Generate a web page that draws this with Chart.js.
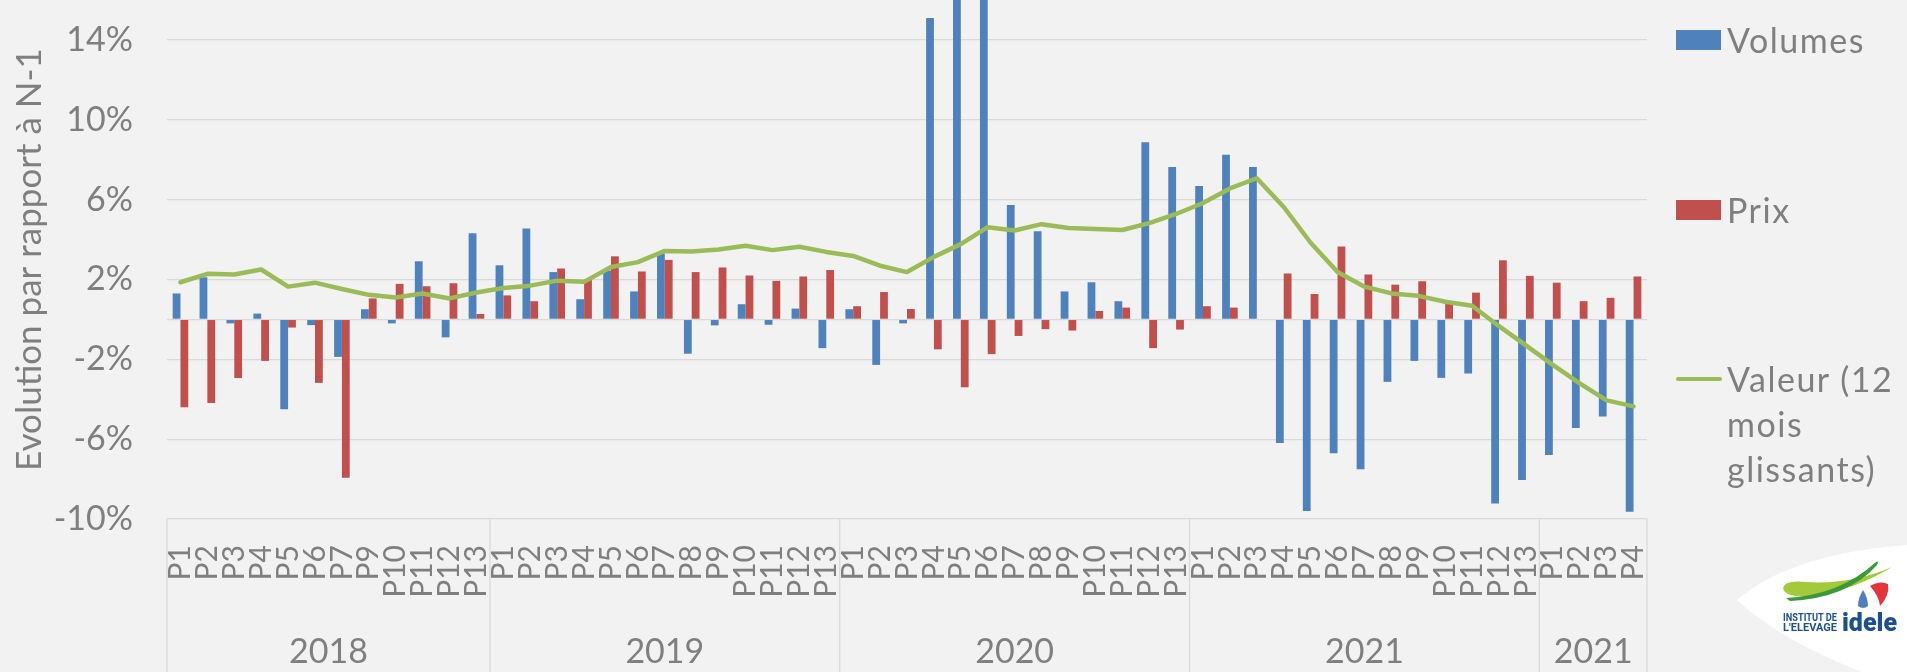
<!DOCTYPE html>
<html lang="fr">
<head>
<meta charset="utf-8">
<title>Evolution par rapport à N-1</title>
<script src="https://cdn.jsdelivr.net/npm/chart.js@4"></script>
<style>
  body { margin: 0; background: #f2f2f2; }
  #wrap { position: relative; width: 1907px; height: 672px; overflow: hidden; background: #f2f2f2; font-family: Lato, sans-serif; color: #7f7f7f; }
  #chart { position: absolute; left: 0; top: 0; }
  .leg { position: absolute; left: 1676px; font-size: 34px; line-height: 45px; letter-spacing: 1.5px; }
  .leg .box { position: absolute; left: 0; width: 45px; height: 20px; }
  .leg .stroke { position: absolute; left: 0; width: 46px; height: 4px; border-radius: 2px; background: #9bbb59; }
  .leg .txt { position: absolute; left: 51px; white-space: nowrap; }
  #logo { position: absolute; left: 1730px; top: 540px; }
</style>
</head>
<body>
<div id="wrap">
  <canvas id="chart" width="1907" height="672"></canvas>

  <div class="leg" style="top:0">
    <div class="box" style="top:30px;background:#4f81bd"></div>
    <div class="txt" style="top:17px">Volumes</div>
  </div>
  <div class="leg" style="top:0">
    <div class="box" style="top:200px;background:#c0504d"></div>
    <div class="txt" style="top:187px">Prix</div>
  </div>
  <div class="leg" style="top:0">
    <div class="stroke" style="top:377px"></div>
    <div class="txt" style="top:356px">Valeur (12<br>mois<br>glissants)</div>
  </div>

  <svg id="logo" width="177" height="132" viewBox="0 0 177 132">
    <path d="M7 60 Q 60 14 177 5 L 177 132 L 132 132 Q 50 100 7 60 Z" fill="#ffffff"/>
    <path d="M53 48 Q 55 40 75 42 Q 120 45 162 27 Q 125 50 80 56 Q 55 58 53 48 Z" fill="#a4c93a"/>
    <path d="M56 58 Q 110 55 146 22 Q 149 20 147 25 Q 118 58 60 61 Z" fill="#3a9a3a"/>
    <path d="M128 66 Q 128 58 133 50 Q 138 58 138 66 Q 133 70 128 66 Z" fill="#4f7fc0"/>
    <path d="M140 46 Q 150 40 158 44 Q 160 55 150 66 Q 149 56 140 46 Z" fill="#e2363c"/>
    <text x="53" y="81" font-family="Roboto, sans-serif" font-weight="700" font-size="10" textLength="54" lengthAdjust="spacingAndGlyphs" fill="#1d4f91">INSTITUT DE</text>
    <text x="53" y="91" font-family="Roboto, sans-serif" font-weight="700" font-size="10" textLength="54" lengthAdjust="spacingAndGlyphs" fill="#1d4f91">L'ELEVAGE</text>
    <text x="112" y="91" font-family="Roboto, sans-serif" font-weight="900" font-size="25" fill="#1d4f91">idele</text>
  </svg>
</div>

<script>
// periods (x axis), 2018 has no P8
const periods = [
  'P1','P2','P3','P4','P5','P6','P7','P9','P10','P11','P12','P13',
  'P1','P2','P3','P4','P5','P6','P7','P8','P9','P10','P11','P12','P13',
  'P1','P2','P3','P4','P5','P6','P7','P8','P9','P10','P11','P12','P13',
  'P1','P2','P3','P4','P5','P6','P7','P8','P9','P10','P11','P12','P13',
  'P1','P2','P3','P4'
];
const years = ['2018', '2019', '2020', '2021', '2021'];
const yearSpans = [12, 13, 13, 13, 4];

// evolution in % vs N-1
const volumes = [
  1.30, 2.11, -0.20, 0.29, -4.50, -0.29, -1.88, 0.51, -0.20, 2.91, -0.90, 4.31,
  2.71, 4.55, 2.37, 1.01, 2.45, 1.40, 3.30, -1.72, -0.30, 0.76, -0.27, 0.54, -1.44,
  0.51, -2.28, -0.20, 15.1, 17.5, 18.5, 5.73, 4.41, 1.40, 1.86, 0.91, 8.88, 7.63,
  6.68, 8.25, 7.63, -6.19, -9.60, -6.71, -7.51, -3.13, -2.08, -2.93, -2.71, -9.22, -8.05,
  -6.80, -5.44, -4.87, -9.64
];
const prix = [
  -4.40, -4.19, -2.94, -2.08, -0.41, -3.18, -7.93, 1.05, 1.78, 1.66, 1.81, 0.27,
  1.20, 0.91, 2.55, 1.98, 3.16, 2.40, 2.98, 2.37, 2.60, 2.20, 1.93, 2.15, 2.47,
  0.66, 1.37, 0.52, -1.50, -3.40, -1.74, -0.83, -0.49, -0.56, 0.42, 0.59, -1.44, -0.51,
  0.66, 0.59, 0, 2.30, 1.27, 3.65, 2.25, 1.74, 1.91, 0.79, 1.34, 2.96, 2.18,
  1.84, 0.91, 1.08, 2.15
];
const valeur = [
  1.86, 2.28, 2.25, 2.50, 1.64, 1.84, 1.52, 1.23, 1.10, 1.30, 1.05, 1.35,
  1.57, 1.69, 1.94, 1.88, 2.62, 2.87, 3.43, 3.40, 3.50, 3.69, 3.47, 3.64, 3.38,
  3.18, 2.69, 2.37, 3.13, 3.77, 4.62, 4.45, 4.77, 4.58, 4.53, 4.48, 4.82, 5.28,
  5.83, 6.56, 7.07, 5.63, 3.84, 2.37, 1.64, 1.30, 1.18, 0.88, 0.68, -0.34, -1.30,
  -2.28, -3.21, -4.06, -4.36
];
const yTicks = [-10, -6, -2, 0, 2, 6, 10, 14];

const grey = '#7f7f7f';
const gridCol = '#d9d9d9';

// year row under the period labels, with the group separators
const yearGroups = {
  id: 'yearGroups',
  afterDraw(chart) {
    const x = chart.scales.x;
    const ctx = chart.ctx;
    const half = (x.getPixelForValue(1) - x.getPixelForValue(0)) / 2;
    const vline = px => {
      ctx.beginPath();
      ctx.moveTo(px, x.top);
      ctx.lineTo(px, chart.height);
      ctx.stroke();
    };
    ctx.save();
    ctx.strokeStyle = gridCol;
    ctx.lineWidth = 1.3;
    ctx.fillStyle = grey;
    ctx.font = '34px Lato';
    ctx.textAlign = 'center';
    ctx.textBaseline = 'middle';
    let start = 0;
    vline(x.getPixelForValue(0) - half);
    yearSpans.forEach((n, i) => {
      const a = x.getPixelForValue(start) - half;
      const b = x.getPixelForValue(start + n - 1) + half;
      vline(b);
      ctx.fillText(years[i], (a + b) / 2, x.bottom - 20);
      start += n;
    });
    ctx.restore();
  }
};

new Chart(document.getElementById('chart'), {
  type: 'bar',
  data: {
    labels: periods,
    datasets: [
      {
        type: 'line',
        label: 'Valeur (12 mois glissants)',
        data: valeur,
        borderColor: '#9bbb59',
        borderWidth: 4.5,
        borderJoinStyle: 'round',
        borderCapStyle: 'round',
        pointRadius: 0,
        tension: 0,
        order: 0
      },
      {
        label: 'Volumes',
        data: volumes,
        backgroundColor: '#4f81bd',
        categoryPercentage: 0.58,
        barPercentage: 1,
        order: 1
      },
      {
        label: 'Prix',
        data: prix,
        backgroundColor: '#c0504d',
        categoryPercentage: 0.58,
        barPercentage: 1,
        order: 1
      }
    ]
  },
  options: {
    responsive: false,
    animation: false,
    layout: { padding: { left: 0, right: 260, top: 0, bottom: 0 } },
    plugins: {
      legend: { display: false },
      tooltip: { enabled: false }
    },
    scales: {
      x: {
        grid: { display: false, drawTicks: false },
        border: { display: false },
        ticks: {
          autoSkip: false,
          minRotation: 90,
          maxRotation: 90,
          padding: 26,
          color: grey,
          font: { family: 'Lato', size: 30 }
        },
        afterFit(s) {
          s.height = 153;
          s.paddingLeft = 0;
          s.paddingRight = 0;
        }
      },
      y: {
        min: -10,
        max: 16,
        afterBuildTicks(s) {
          s.ticks = yTicks.map(v => ({ value: v }));
        },
        grid: { color: gridCol, lineWidth: 1.3, drawTicks: false },
        border: { display: false },
        ticks: {
          padding: 34,
          color: grey,
          font: { family: 'Lato', size: 34 },
          callback: v => (v === 0 ? '' : v + '%')
        },
        title: {
          display: true,
          text: 'Evolution par rapport à N-1',
          color: grey,
          font: { family: 'Lato', size: 35 },
          padding: { top: 9, bottom: 0 }
        },
        afterFit(s) {
          s.width = 167;
          s.paddingTop = 0;
          s.paddingBottom = 0;
        }
      }
    }
  },
  plugins: [yearGroups]
});
</script>
</body>
</html>
